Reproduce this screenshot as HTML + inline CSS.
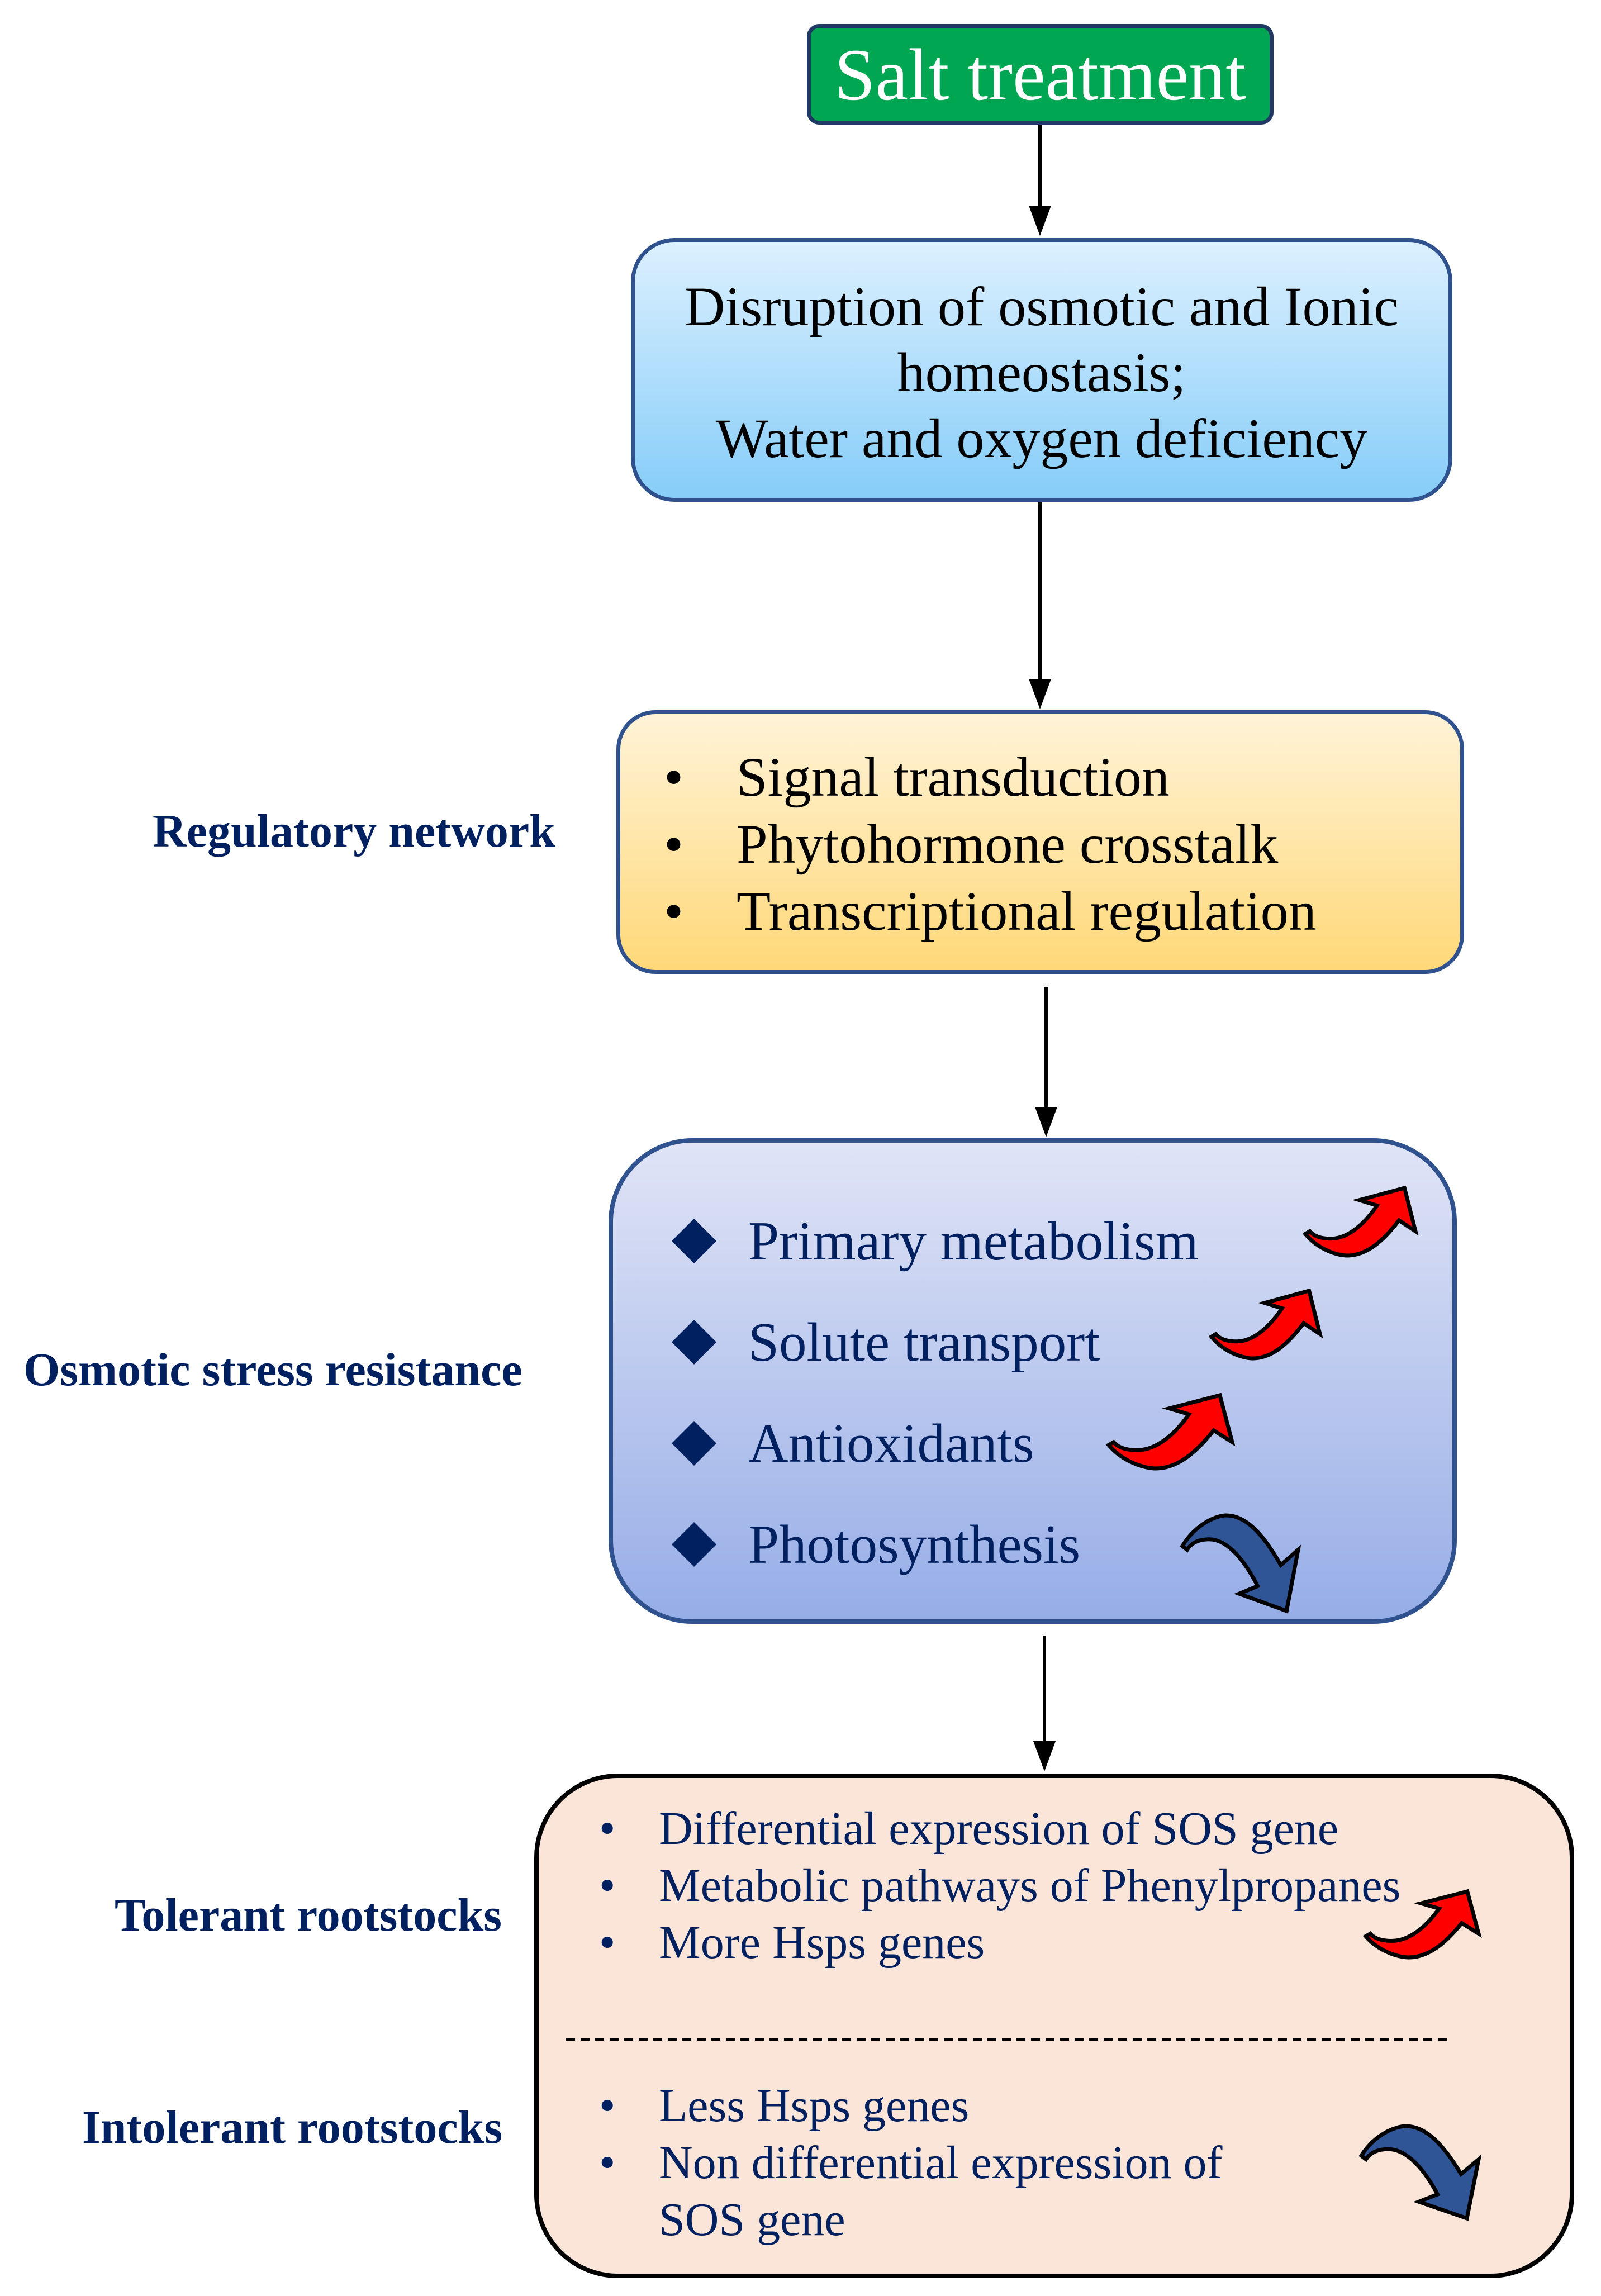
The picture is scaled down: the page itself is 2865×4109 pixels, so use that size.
<!DOCTYPE html>
<html><head><meta charset="utf-8"><style>
body{margin:0;width:2865px;height:4109px;background:#fff;position:relative;overflow:hidden;font-family:"Liberation Serif",serif}
.b{position:absolute;box-sizing:border-box}
.t{position:absolute;white-space:nowrap;line-height:1}
.lab{position:absolute;font-weight:bold;color:#002060;font-size:84px;white-space:nowrap;line-height:1}
</style></head><body>
<div class="b" style="left:1444px;top:43px;width:835px;height:180px;background:#00a651;border:7px solid #1f3864;border-radius:22px;"></div>
<div class="t" style="left:1444px;top:68px;width:835px;text-align:center;color:#fff;font-size:132px">Salt treatment</div>

<div class="b" style="left:1129px;top:426px;width:1470px;height:472px;background:linear-gradient(#dcf0fe,#86cdf9);border:7px solid #2f528f;border-radius:78px;"></div>
<div class="t" style="left:1129px;top:490px;width:1470px;text-align:center;font-size:100px;line-height:118px;white-space:normal">Disruption of osmotic and Ionic<br>homeostasis;<br>Water and oxygen deficiency</div>

<div class="b" style="left:1103px;top:1271px;width:1517px;height:472px;background:linear-gradient(#fff3d8,#ffd878);border:7px solid #2f528f;border-radius:70px;"></div>
<div class="t" style="left:1188px;top:1331px;font-size:100px;line-height:120px">•<br>•<br>•</div>
<div class="t" style="left:1318px;top:1331px;font-size:100px;line-height:120px">Signal transduction<br>Phytohormone crosstalk<br>Transcriptional regulation</div>
<div class="lab" style="left:273px;top:1446px">Regulatory network</div>

<div class="b" style="left:1089px;top:2037px;width:1518px;height:869px;background:linear-gradient(#e0e4f6,#96ade7);border:8px solid #2f528f;border-radius:150px;"></div>
<div class="t" style="left:1339px;top:2131px;font-size:99px;line-height:181px;color:#002060">Primary metabolism<br>Solute transport<br>Antioxidants<br>Photosynthesis</div>
<div class="lab" style="left:42px;top:2410px">Osmotic stress resistance</div>

<div class="b" style="left:956px;top:3174px;width:1861px;height:903px;background:#fae5d8;border:8px solid #000;border-radius:150px;"></div>
<div class="t" style="left:1072px;top:3222px;font-size:84px;line-height:102px;color:#002060">•<br>•<br>•</div>
<div class="t" style="left:1179px;top:3222px;font-size:84px;line-height:102px;color:#002060">Differential expression of SOS gene<br>Metabolic pathways of Phenylpropanes<br>More Hsps genes</div>
<div class="t" style="left:1072px;top:3718px;font-size:84px;line-height:102px;color:#002060">•<br>•</div>
<div class="t" style="left:1179px;top:3718px;font-size:84px;line-height:102px;color:#002060">Less Hsps genes<br>Non differential expression of<br>SOS gene</div>
<div class="lab" style="left:205px;top:3386px">Tolerant rootstocks</div>
<div class="lab" style="left:147px;top:3766px">Intolerant rootstocks</div>

<svg width="2865" height="4109" style="position:absolute;left:0;top:0">
<defs>
<path id="up" d="M0,68 C12,92 30,100 38,100 C55,100 70,80 85,48 L100,64 L90,0 L49,18 L65,26 C55,50 40,75 23,75 C15,75 8,72 4,64 Z" stroke="#000" stroke-width="7" vector-effect="non-scaling-stroke" stroke-linejoin="miter"/>
</defs>
<g stroke="#000" stroke-width="6" fill="#000">
<line x1="1861" y1="223" x2="1861" y2="370"/><path d="M1841,368 L1881,368 L1861,422Z" stroke="none"/>
<line x1="1861" y1="898" x2="1861" y2="1217"/><path d="M1841,1215 L1881,1215 L1861,1269Z" stroke="none"/>
<line x1="1872" y1="1767" x2="1872" y2="1983"/><path d="M1852,1981 L1892,1981 L1872,2035Z" stroke="none"/>
<line x1="1869" y1="2927" x2="1869" y2="3118"/><path d="M1849,3116 L1889,3116 L1869,3170Z" stroke="none"/>
<line x1="1013" y1="3650" x2="2594" y2="3650" stroke-width="4" stroke-dasharray="16,10"/>
</g>
<g fill="#002060">
<polygon points="1242,2181 1282,2221 1242,2261 1202,2221"/>
<polygon points="1242,2362 1282,2402 1242,2442 1202,2402"/>
<polygon points="1242,2543 1282,2583 1242,2623 1202,2583"/>
<polygon points="1242,2724 1282,2764 1242,2804 1202,2764"/>
</g>
<g fill="#ff0000">
<use href="#up" transform="translate(2336,2126) scale(1.97,1.21)"/>
<use href="#up" transform="translate(2168,2310) scale(1.94,1.21)"/>
<use href="#up" transform="translate(1984,2497) scale(2.21,1.31)"/>
<use href="#up" transform="translate(2444,3385) scale(2.02,1.18)"/>
</g>
<g fill="#2f5597">
<use href="#up" transform="translate(2116,2883) scale(2.07,-1.71)"/>
<use href="#up" transform="translate(2436,3970) scale(2.1,-1.65)"/>
</g>
</svg>
</body></html>
